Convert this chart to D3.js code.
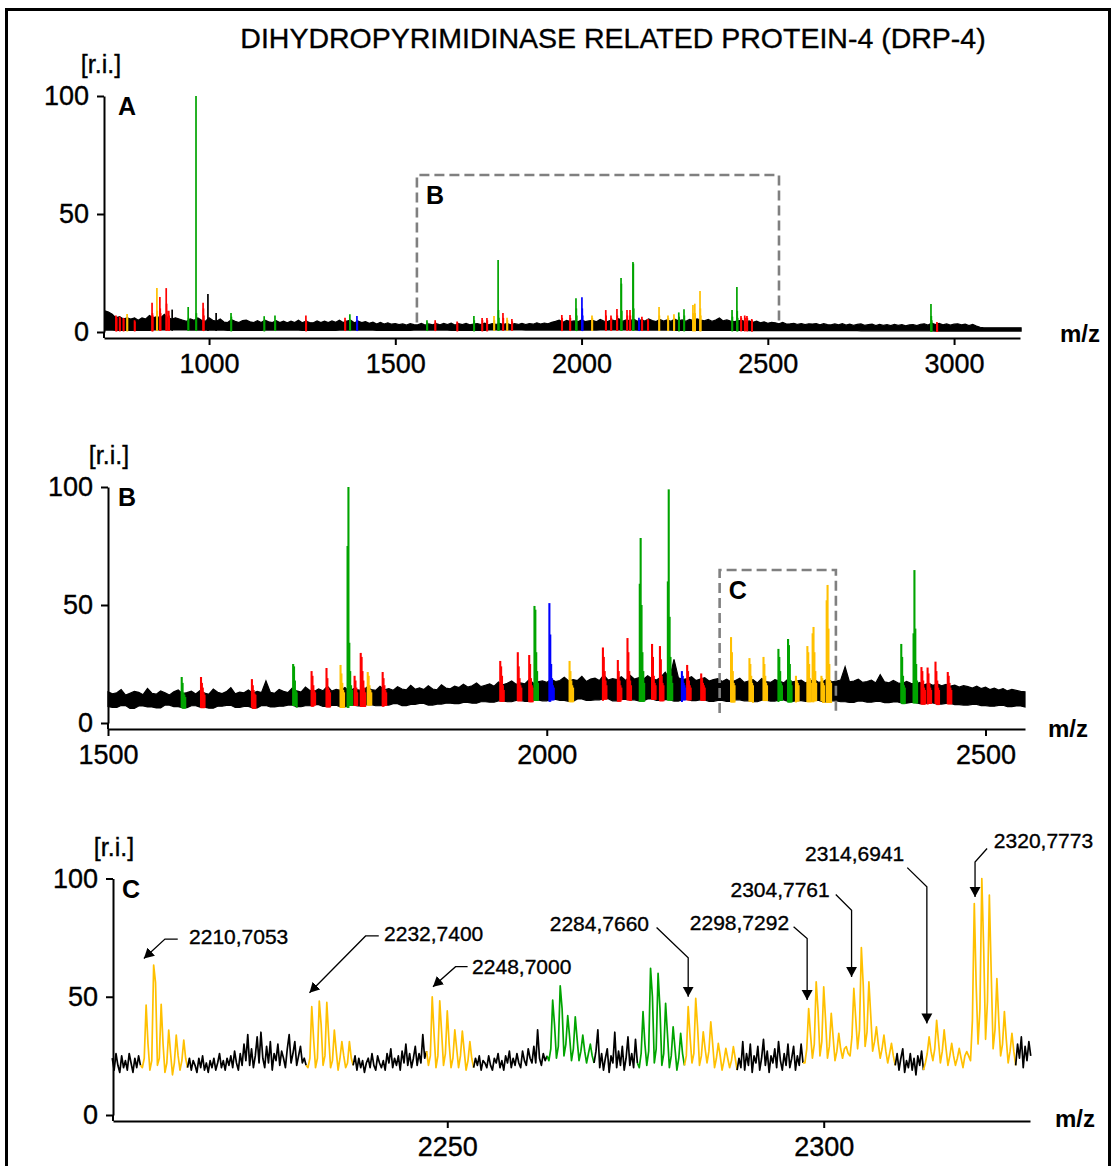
<!DOCTYPE html>
<html>
<head>
<meta charset="utf-8">
<script src="https://cdn.jsdelivr.net/npm/d3@7"></script>
<style>
  body { margin: 0; background: #fff; }
  svg { display: block; }
  text { font-family: "Liberation Sans", Arial, sans-serif; fill: #000; }
</style>
</head>
<body>
<div id="chart"></div>
<script>
// ---------- data ----------
const title = "DIHYDROPYRIMIDINASE RELATED PROTEIN-4 (DRP-4)";
const ticksA = [1000, 1500, 2000, 2500, 3000];
const ticksB = [1500, 2000, 2500];
const ticksC = [2250, 2300];
const ticksY = [0, 50, 100];

// panel A: upper edge of the noise band, every 10 m/z from 720
const bandStartA = 720, bandStepA = 10;
const bandHiA = [
  9, 8.5, 7.5, 6, 6.5, 5.5, 6, 5.5, 6, 5,
  6, 5.5, 7, 6, 6.5, 6, 7.5, 6, 5.5, 6,
  5.5, 5, 4.5, 5.5, 5, 6, 5, 4.5, 6, 5,
  4.5, 5.5, 4.2, 4, 5.2, 4.5, 4, 4.8, 5, 4.3,
  4, 4.8, 4, 5, 4.3, 4, 4.8, 4, 4.6, 3.9,
  4.6, 4, 5, 3.9, 4.6, 4, 3.9, 4.7, 4, 4.6,
  4, 4.7, 4.1, 5, 4, 4.6, 5, 3.9, 4.6, 4,
  4.4, 3.7, 4.2, 3.4, 4.1, 3.4, 3.9, 3.3, 3.6, 3.1,
  3.4, 2.9, 3.5, 3.1, 3, 3.6, 2.9, 3.4, 3, 3.5,
  3, 3.6, 3.1, 3.7, 2.9, 3.5, 3.1, 3.6, 3, 3.4,
  3.6, 3.1, 3.7, 3, 3.5, 3.2, 3.7, 3.1, 3.6, 3,
  3.5, 3.2, 3.7, 3.1, 3.6, 3.3, 3.9, 3.4, 3.8, 3.5,
  4.1, 4.5, 5, 4.1, 4.9, 4.4, 4.7, 4.3, 5.1, 4.4,
  4.7, 4.9, 4.3, 5.3, 4.6, 4.4, 5.1, 4.7, 5.6, 4.5,
  5.1, 4.7, 5.4, 4.5, 5.1, 4.6, 5.5, 4.8, 4.4, 5.3,
  4.6, 5.1, 4.5, 5.4, 4.7, 5.1, 4.5, 5.3, 4.8, 5.6,
  5.1, 4.7, 5.3, 4.5, 5.1, 5.9, 4.7, 5.1, 4.6, 4.4,
  4.7, 4.9, 4.3, 4.7, 4.1, 4.6, 3.9, 4.3, 3.7, 4.1,
  3.9, 3.5, 4.1, 3.4, 3.5, 3.7, 3.2, 3.6, 3.1, 3.5,
  3.4, 3.6, 3, 3.5, 3.1, 3, 3.4, 3, 3.5, 2.9,
  3.3, 2.8, 3.2, 3.4, 2.8, 3.1, 3.3, 2.7, 3.2, 2.8,
  3.1, 2.7, 3.2, 2.8, 3.1, 2.6, 3, 3.1, 2.7, 3.3,
  3.5, 2.9, 3.7, 3.1, 3.6, 3, 3.4, 2.9, 3.3, 3.5,
  3, 3.3, 2.7, 3.2, 2.5, 2, 1.8, 1.8, 1.8, 1.8,
  1.8, 1.8, 1.8, 1.8, 1.8, 1.8, 1.8
];
// panel A: lower edge of the band, every 100 m/z from 700
const loStartA = 700, loStepA = 100;
const bandLoA = [0.8, 0.7, 0.9, 0.8, 0.7, 0.8, 0.7, 0.8, 0.7, 0.8, 0.7, 0.9, 0.8,
  0.8, 0.9, 0.8, 0.7, 0.7, 0.6, 0.6, 0.6, 0.5, 0.5, 0.4, 0.4, 0.4];

// panel B: upper edge every 5 m/z from 1500, lower edge every 10 m/z
const bandStartB = 1500, bandStepB = 5;
const bandHiB = [
  13.2, 12.4, 12.8, 14.2, 11.8, 12.6, 13.4, 13, 12, 14.6, 12.6, 12.2, 13.6, 12.8, 11.9, 13.2, 14, 12.4, 12.9, 13.5,
  12.3, 13.8, 12.7, 12.2, 14.4, 13, 12.5, 13.3, 15, 12.4, 13.1, 12.8, 14, 12.6, 13.4, 12.9, 17.8, 13, 12.6, 14.2,
  13.4, 12.9, 14.8, 13.6, 13.1, 15.2, 13.8, 13.3, 14.4, 13.6, 15.6, 13.5, 14.2, 13.8, 15, 13.4, 14.6, 14, 13.6, 15.2,
  14.2, 13.8, 15.6, 14.1, 14.6, 13.9, 15.4, 14.4, 14, 16, 14.3, 14.9, 14.2, 15.8, 14.4, 14.1, 16.2, 14.8, 14.5, 15.6,
  15, 16.4, 15.2, 15.8, 17, 15.4, 16, 16.6, 15.6, 17.4, 16.2, 16.8, 17.8, 16.4, 17, 16.6, 18.4, 16.8, 17.4, 17.8,
  17.2, 18.6, 17.6, 18, 19.4, 17.8, 18.4, 18, 19.8, 17.6, 18.6, 19, 18, 20.4, 18.2, 18.8, 18.4, 19.6, 18, 20.2,
  18.6, 19.2, 18.4, 20, 18.8, 18.2, 19.4, 21.5, 18.8, 27, 19.2, 18.4, 18.8, 19.6, 18, 18.6, 19.2, 17.8, 18.4, 18.8,
  17.6, 18.6, 17.4, 18, 19, 17.2, 17.8, 18.4, 17, 18.8, 17.6, 17.2, 18.4, 17.8, 17, 18.6, 17.4, 17.8, 18.2, 17,
  17.8, 18.4, 17.2, 17.6, 18.8, 17.4, 17.8, 18.2, 23.8, 17.4, 17.8, 18.6, 17.2, 17.6, 18.2, 17, 20.5, 17.4, 17, 18,
  17, 16.6, 17.6, 16.8, 16.4, 17.2, 16.2, 16.8, 16, 16.6, 15.8, 16.4, 15.6, 16, 15.2, 15.8, 15.4, 14.8, 15.6, 14.6,
  15.2, 14.2, 14.8, 14, 14.6, 13.6, 14.2, 13.8, 13.4, 13.2
];
const loStartB = 1500, loStepB = 10;
const bandLoB = [
  7, 6.6, 7.4, 6.2, 7.2, 6.8, 6.4, 7.6, 6.9, 6.5,
  7.3, 6.7, 6.3, 7.1, 7.5, 6.6, 7, 6.4, 7.4, 6.8,
  7.1, 7.6, 6.9, 7.3, 7.8, 7, 7.5, 6.8, 7.6, 7.2,
  7.8, 7.3, 7.6, 8.2, 7.4, 7.9, 8.3, 7.6, 8, 8.4,
  8.2, 8.7, 8.4, 9, 8.8, 9.4, 9, 9.6, 9.2, 9.8,
  9.4, 10, 9.6, 9.2, 10.2, 9.6, 9.8, 10.3, 9.4, 10,
  9.8, 9.4, 10.2, 9.6, 9.9, 9.3, 10, 9.5, 9.8, 9.2,
  9.6, 9.1, 9.8, 9.4, 9, 9.7, 9.3, 9.8, 9.1, 9.5,
  9.2, 9.6, 8.9, 9.4, 9, 8.7, 9.3, 8.8, 9.1, 8.6,
  8.9, 8.4, 8.7, 8.2, 8.5, 8, 8.3, 7.8, 7.6, 7.9,
  7.4, 7.1, 7.5, 6.9, 7.2, 6.8
];

// assigned peaks: [first isotope m/z, category, isotope heights]
const peaksA = [
  [750, "r", [7, 6.5, 6]], [760, "r", [6.5, 6]], [770, "r", [6, 5.5]], [780, "y", [7.6, 6]], [800, "r", [5, 4.5]],
  [847, "r", [12.4, 8, 7]], [860, "y", [18.6, 9]], [868, "r", [14.8, 10, 8]], [885, "r", [18.6, 12, 9]], [892, "r", [9, 7]],
  [901, "k", [9.5]], [944, "g", [10.6, 6]], [965, "g", [100, 8]], [984, "r", [12.4, 10, 7]], [997, "k", [16.1]], [1019, "k", [8]],
  [1059, "g", [8, 6.5]], [1148, "g", [6.7, 5]], [1177, "g", [7, 5]], [1260, "r", [7, 5]], [1365, "r", [6, 5]],
  [1378, "g", [7.5, 5]], [1397, "b", [6.8, 5]],
  [1585, "g", [5, 4]], [1607, "r", [5, 4]], [1666, "r", [4.5, 4]], [1711, "g", [6.8, 5]], [1733, "r", [5.9, 5]],
  [1746, "r", [5.9, 5]], [1765, "y", [6.8, 5]], [1776, "g", [30.5, 9.3, 6]], [1789, "r", [8, 6]], [1800, "y", [6, 5]],
  [1813, "r", [5.5, 4.5]],
  [1947, "r", [7.2, 6]], [1969, "r", [7.2, 6]], [1985, "g", [14.3, 10, 7]], [2001, "b", [14.7, 10, 7]], [2028, "y", [7, 6]],
  [2065, "r", [9.3, 7]], [2079, "r", [7, 6]], [2095, "r", [9.7, 7]], [2106, "g", [22.9, 20.5, 9]], [2122, "r", [9.3, 7]],
  [2130, "r", [9.3, 7]], [2138, "g", [29.7, 29, 10]], [2154, "b", [6, 5]], [2162, "r", [6.5, 5.5]], [2178, "r", [5.5, 5]],
  [2208, "y", [10.6, 7]], [2232, "y", [7, 6]], [2248, "y", [7.5, 6]], [2261, "g", [8.3, 6.5]], [2275, "g", [9.6, 7]],
  [2299, "y", [11.4, 8]], [2304, "y", [12, 8]], [2318, "y", [17.4, 10, 7]],
  [2404, "g", [9.3, 6.5]], [2417, "g", [19.1, 9, 6]], [2428, "r", [6.8, 6]], [2438, "r", [7, 6]], [2444, "r", [6.8, 6]],
  [2457, "r", [5.5, 5]],
  [2938, "g", [11.9, 6.8, 5]], [2954, "r", [4.2, 3.5]]
];
const peaksB = [
  [1584, "g", [19.5, 17, 13, 12, 11]], [1606, "r", [19.5, 17, 15, 13, 12]], [1664, "r", [18.6, 16, 14, 12.5, 12]],
  [1711, "g", [25, 24, 18, 14, 13]], [1732, "r", [22, 20, 16, 14, 13]], [1749, "r", [23.3, 19, 15, 14, 13]],
  [1765, "y", [24.6, 21, 17, 14, 13]], [1773, "g", [75, 100, 34, 22, 16, 14]], [1781, "r", [20, 18, 15, 13]],
  [1788, "r", [29.7, 28, 22, 18, 15, 13]], [1796, "y", [21.6, 20, 16, 14, 13]], [1813, "r", [21.6, 19, 16, 14, 13]],
  [1947, "r", [26.3, 24, 20, 16, 14]], [1967, "r", [30, 24, 19, 16, 15]], [1980, "r", [28.8, 25, 19, 16, 15]],
  [1986, "g", [49.6, 48, 30, 22, 17]], [2003, "b", [50.8, 37.5, 25, 19, 16, 15]], [2026, "y", [26.3, 22, 18, 16, 15]],
  [2064, "r", [32, 28, 22, 18, 16]], [2081, "r", [26.7, 22, 18, 16, 15]], [2092, "r", [36, 30, 22, 18, 16]],
  [2106, "g", [59, 78.4, 50, 30, 22, 17]], [2120, "r", [33.5, 28, 20, 17, 16]], [2129, "r", [32.6, 27, 20, 17, 16]],
  [2138, "g", [60, 99, 45, 28, 20, 17]], [2154, "b", [22, 20, 17, 16, 15]], [2160, "r", [24.6, 22, 18, 16, 15]],
  [2176, "r", [21, 19, 17, 16, 15]],
  [2210, "y", [36.4, 30, 22, 17, 16]], [2231, "y", [27.5, 25, 20, 17, 16]], [2247, "y", [28, 25, 20, 17, 16]],
  [2264, "g", [31.4, 28, 22, 17, 16]], [2275, "g", [35.6, 33, 25, 18, 16]], [2284, "y", [20, 18, 17, 16]],
  [2297, "y", [32.6, 30, 25, 19, 17]], [2303, "y", [38, 40.7, 30, 22, 17]], [2313, "y", [20, 19, 17, 16]],
  [2319, "y", [52, 58.5, 40, 25, 18, 17]],
  [2404, "g", [33.5, 28, 20, 16, 15]], [2418, "g", [38, 64.8, 40, 25, 18]], [2427, "r", [23.7, 22, 18, 15, 14]],
  [2434, "r", [23.5, 21, 17, 15, 14]], [2443, "r", [26, 22, 18, 15, 14]], [2457, "r", [21.6, 20, 17, 15, 14]]
];

// panel C: the trace every 0.25 m/z from 2205.5 (two m/z per row)
const traceStartC = 2205.5, traceStepC = 0.25;
const traceC = [
  24, 19, 26, 21, 18, 25, 20, 23,            // 2205.5
  19, 26, 22, 18, 24, 20, 25, 21,            // 2207.5
  20, 24, 46.5, 30, 19, 23, 63.4, 56,        // 2209.5
  21, 24, 46.8, 30, 18, 22, 35.9, 26,        // 2211.5
  17, 22, 33.8, 25, 19, 23, 31.7, 24,        // 2213.5
  20, 24, 19, 23, 21, 18, 24, 20,            // 2215.5
  25, 19, 22, 18, 23, 20, 24, 19,            // 2217.5
  22, 26, 20, 23, 19, 24, 21, 25,            // 2219.5
  20, 27, 22, 19, 26, 21, 30, 23,            // 2221.5
  34, 21, 28, 20, 25, 33, 22, 35,            // 2223.5
  24, 20, 29, 22, 31, 19, 26, 23,            // 2225.5
  30, 21, 27, 24, 20, 28, 34, 22,            // 2227.5
  26, 31, 21, 25, 29, 22, 24, 21,            // 2229.5
  20, 24, 45.8, 32, 20, 24, 48.2, 38,        // 2231.5
  21, 25, 47.6, 33, 20, 23, 35.9, 27,        // 2233.5
  19, 24, 31, 25, 20, 22, 31, 24,            // 2235.5
  21, 25, 19, 24, 20, 23, 18, 22,            // 2237.5
  24, 20, 26, 21, 19, 25, 22, 20,            // 2239.5
  23, 19, 26, 22, 28, 20, 24, 21,            // 2241.5
  25, 19, 27, 22, 30, 21, 26, 20,            // 2243.5
  24, 29, 21, 26, 22, 34, 24, 27,            // 2245.5
  21, 25, 50, 34, 20, 25, 48.3, 35,          // 2247.5
  21, 26, 44, 30, 20, 24, 36, 28,            // 2249.5
  20, 25, 35.5, 27, 19, 23, 31, 24,          // 2251.5
  20, 24, 21, 25, 19, 23, 22, 20,            // 2253.5
  25, 21, 19, 24, 22, 26, 20, 23,            // 2255.5
  19, 25, 22, 27, 20, 24, 21, 26,            // 2257.5
  22, 20, 27, 23, 21, 28, 24, 22,            // 2259.5
  29, 22, 36, 24, 21, 26, 23, 25,            // 2261.5
  23, 28, 48.6, 38, 24, 29, 54.6, 45,        // 2263.5
  25, 30, 42, 33, 23, 28, 41.5, 32,          // 2265.5
  23, 27, 33.8, 27, 22, 26, 30, 25,          // 2267.5
  22, 27, 36, 20, 26, 19, 24, 28,            // 2269.5
  18, 25, 22, 35, 20, 27, 21, 29,            // 2271.5
  19, 24, 33, 21, 26, 20, 32, 22,            // 2273.5
  20, 26, 43.7, 30, 21, 27, 62, 50,          // 2275.5
  22, 28, 59.9, 45, 21, 26, 47.2, 34,        // 2277.5
  20, 25, 37.3, 28, 19, 24, 34.5, 26,        // 2279.5
  21, 25, 45.8, 33, 22, 26, 49.3, 37,        // 2281.5
  21, 25, 35.2, 28, 22, 27, 39.4, 30,        // 2283.5
  20, 24, 30.3, 25, 19, 23, 28.2, 24,        // 2285.5
  20, 23, 28.9, 24, 19, 24, 20, 31,          // 2287.5
  19, 26, 21, 30, 18, 25, 22, 29,            // 2289.5
  19, 24, 32, 21, 27, 18, 25, 22,            // 2291.5
  28, 20, 31, 23, 19, 26, 21, 30,            // 2293.5
  20, 24, 29, 19, 25, 21, 30, 22,            // 2295.5
  22, 28, 45, 34, 24, 30, 56.3, 44,          // 2297.5
  25, 31, 54.2, 40, 24, 29, 43, 33,          // 2299.5
  23, 27, 34.5, 28, 24, 28, 28.9, 26,        // 2301.5
  25, 33, 53.5, 41, 28, 36, 70.8, 55,        // 2303.5
  29, 35, 56.3, 42, 27, 31, 37.3, 30,        // 2305.5
  24, 28, 33.8, 27, 22, 26, 30.3, 25,        // 2307.5
  21, 26, 19, 24, 28, 18, 23, 20,            // 2309.5
  26, 19, 24, 17, 25, 21, 27, 19,            // 2311.5
  22, 26, 33, 27, 23, 28, 40, 31,            // 2313.5
  22, 27, 36, 28, 21, 25, 30.3, 25,          // 2315.5
  21, 24, 28.2, 24, 20, 25, 26.8, 25,        // 2317.5
  23, 40, 89.4, 55, 30, 45, 100, 70,         // 2319.5
  32, 48, 93, 60, 28, 36, 57.7, 40,          // 2321.5
  25, 30, 43.7, 32, 22, 27, 34.5, 27,        // 2323.5
  21, 30, 24, 33, 20, 29, 23, 31,            // 2325.5
  25                                          // 2327.5
];
// coloured (assigned) stretches of the C trace: [from m/z, to m/z, category]
const rangesC = [
  [2209.5, 2215.5, "y"], [2231.5, 2237.5, "y"], [2247.5, 2253.5, "y"],
  [2263.5, 2269.5, "g"], [2275.5, 2281.5, "g"], [2281.5, 2288.5, "y"],
  [2297.5, 2309.5, "y"], [2313.5, 2325.5, "y"]
];
// annotations in C: [text, anchor, label m/z, label r.i., leader points from label to arrow tip]
const labelsC = [
  ["2210,7053", "start", 2215.7, 75.4, [[2214.2, 74.4], [2212.5, 74.4], [2209.7, 66.2]]],
  ["2232,7400", "start", 2241.6, 76.8, [[2240.9, 75.7], [2239.15, 75.7], [2231.7, 51.7]]],
  ["2248,7000", "start", 2253.3, 62.7, [[2252.7, 62.7], [2251.1, 62.7], [2248.1, 54.2]]],
  ["2284,7660", "end", 2276.8, 81.1, [[2277.8, 79.3], [2282.0, 66.5], [2282.0, 50.0]]],
  ["2298,7292", "end", 2295.4, 81.3, [[2296.0, 79.6], [2297.8, 74.6], [2297.8, 48.6]]],
  ["2304,7761", "end", 2300.8, 95.1, [[2301.6, 93.2], [2303.7, 86.6], [2303.7, 58.4]]],
  ["2314,6941", "end", 2310.7, 110.3, [[2311.1, 104.6], [2313.7, 96.5], [2313.7, 38.7]]],
  ["2320,7773", "start", 2322.6, 116.0, [[2321.7, 112.7], [2320.1, 107.0], [2320.1, 92.2]]]
];
// zoom windows: [label, m/z from, m/z to, top r.i., bottom r.i.]
const boxA = ["B", 1558, 2530, 66.5, 4];
const boxB = ["C", 2197, 2329.5, 64.8, 4.2];

// ---------- layout ----------
const W = 1113, H = 1166;
const color = d3.scaleOrdinal()
  .domain(["k", "r", "g", "y", "b"])
  .range(["#000000", "#ff0000", "#00a400", "#ffc000", "#0000ff"]);

const svg = d3.select("#chart").append("svg")
  .attr("width", W).attr("height", H);

svg.append("rect")
  .attr("x", 6.5).attr("y", 9.5)
  .attr("width", 1103).attr("height", 1175)
  .attr("fill", "none").attr("stroke", "#000").attr("stroke-width", 3);

svg.append("text")
  .attr("x", 613).attr("y", 48)
  .attr("text-anchor", "middle")
  .attr("font-size", 28.5)
  .attr("stroke", "#000").attr("stroke-width", 0.35)
  .text(title);

function makePanel(domain, xr, y0, y100, opt) {
  return Object.assign({
    x: d3.scaleLinear().domain(domain).range(xr),
    y: d3.scaleLinear().domain([0, 100]).range([y0, y100])
  }, opt);
}
const pA = makePanel([718, 3177], [104, 1020], 332, 96, { riDx: -3, letterDx: 14, mzDx: 40, mzDy: 4 });
const pB = makePanel([1500, 2545], [108, 1025], 723, 487, { riDx: 1, letterDx: 10, mzDx: 23, mzDy: 8 });
const pC = makePanel([2205.6, 2327.4], [113, 1030], 1115, 878.5, { riDx: 1, letterDx: 9, mzDx: 25, mzDy: 6 });

function drawAxes(p, ticks, letter) {
  const g = svg.append("g");
  const x0 = p.x.range()[0];
  const axisY = p.y(0) + 6;

  const xa = g.append("g")
    .attr("transform", `translate(0,${axisY})`)
    .call(d3.axisBottom(p.x).tickValues(ticks).tickSize(7).tickSizeOuter(0)
      .tickPadding(9).tickFormat(d3.format("d")));
  const ya = g.append("g")
    .attr("transform", `translate(${x0},0)`)
    .call(d3.axisLeft(p.y).tickValues(ticksY).tickSize(7).tickSizeOuter(0).tickPadding(8));
  [xa, ya].forEach(a => {
    a.selectAll("path, line").attr("stroke", "#000").attr("stroke-width", 2);
    a.selectAll("text").attr("font-size", 27).attr("fill", "#000")
      .attr("stroke", "#000").attr("stroke-width", 0.35)
      .attr("font-family", '"Liberation Sans", Arial, sans-serif');
  });
  g.append("line")
    .attr("x1", x0).attr("x2", x0)
    .attr("y1", p.y(0)).attr("y2", axisY)
    .attr("stroke", "#000").attr("stroke-width", 2);

  g.append("text")
    .attr("x", x0 + p.riDx).attr("y", p.y(100) - 23)
    .attr("text-anchor", "middle")
    .attr("font-size", 25)
    .attr("stroke", "#000").attr("stroke-width", 0.35)
    .text("[r.i.]");
  g.append("text")
    .attr("x", x0 + p.letterDx).attr("y", p.y(100) + 19)
    .attr("font-size", 25).attr("font-weight", "bold")
    .text(letter);
  g.append("text")
    .attr("x", p.x.range()[1] + p.mzDx).attr("y", axisY + p.mzDy)
    .attr("font-size", 24).attr("font-weight", "bold")
    .text("m/z");
}

function drawBand(p, hi, start, step, lo, loStart, loStep) {
  const loAt = mz => lo[Math.max(0, Math.min(lo.length - 1, Math.round((mz - loStart) / loStep)))];
  const pts = hi.map((v, i) => ({ mz: start + i * step, hi: v }));
  const area = d3.area()
    .x(d => p.x(d.mz))
    .y0(d => p.y(loAt(d.mz)))
    .y1(d => p.y(d.hi));
  svg.append("path")
    .datum(pts)
    .attr("d", area)
    .attr("fill", "#000")
    .attr("stroke", "#000")
    .attr("stroke-width", 1.2)
    .attr("stroke-linejoin", "miter");
  return loAt;
}

function drawPeaks(p, peaks, loAt, width) {
  const lines = [];
  peaks.forEach(([mz, cat, hs]) => {
    hs.forEach((h, k) => lines.push({ mz: mz + k, h, cat }));
  });
  svg.append("g").selectAll("line")
    .data(lines)
    .join("line")
    .attr("x1", d => p.x(d.mz)).attr("x2", d => p.x(d.mz))
    .attr("y1", d => p.y(loAt(d.mz) - 0.4))
    .attr("y2", d => p.y(d.h))
    .attr("stroke", d => color(d.cat))
    .attr("stroke-width", width);
}

function drawBox(p, box) {
  const [letter, m0, m1, top, bottom] = box;
  const path = d3.path();
  path.moveTo(p.x(m0), p.y(bottom));
  path.lineTo(p.x(m0), p.y(top));
  path.lineTo(p.x(m1), p.y(top));
  path.lineTo(p.x(m1), p.y(bottom));
  svg.append("path")
    .attr("d", path.toString())
    .attr("fill", "none")
    .attr("stroke", "#808080")
    .attr("stroke-width", 2.6)
    .attr("stroke-dasharray", "10,5");
  svg.append("text")
    .attr("x", p.x(m0) + 9).attr("y", p.y(top) + 29)
    .attr("font-size", 25).attr("font-weight", "bold")
    .text(letter);
}

// ---------- panel A ----------
const loA = drawBand(pA, bandHiA, bandStartA, bandStepA, bandLoA, loStartA, loStepA);
drawPeaks(pA, peaksA, loA, 1.7);
drawBox(pA, boxA);
drawAxes(pA, ticksA, "A");

// ---------- panel B ----------
const loB = drawBand(pB, bandHiB, bandStartB, bandStepB, bandLoB, loStartB, loStepB);
drawPeaks(pB, peaksB, loB, 2.1);
drawBox(pB, boxB);
drawAxes(pB, ticksB, "B");

// ---------- panel C ----------
const ptsC = traceC.map((v, i) => {
  const mz = traceStartC + i * traceStepC;
  const r = rangesC.find(r => mz >= r[0] - 1e-6 && mz <= r[1] + 1e-6);
  return { mz, v, cat: r ? r[2] : "k" };
});
// split the trace into runs of one colour, each run starting at the last point of the previous one
const runsC = [];
ptsC.forEach((d, i) => {
  if (i === 0 || d.cat !== ptsC[i - 1].cat) runsC.push({ cat: d.cat, pts: i ? [ptsC[i - 1]] : [] });
  runsC[runsC.length - 1].pts.push(d);
});
const lineC = d3.line().x(d => pC.x(d.mz)).y(d => pC.y(d.v));
svg.append("g").selectAll("path")
  .data(runsC)
  .join("path")
  .attr("d", d => lineC(d.pts))
  .attr("fill", "none")
  .attr("stroke", d => color(d.cat))
  .attr("stroke-width", 1.7)
  .attr("stroke-linejoin", "round");

svg.append("defs").append("marker")
  .attr("id", "arrow")
  .attr("viewBox", "0 -6 10 12")
  .attr("refX", 10).attr("refY", 0)
  .attr("markerWidth", 10).attr("markerHeight", 12)
  .attr("markerUnits", "userSpaceOnUse")
  .attr("orient", "auto")
  .append("path")
  .attr("d", "M0,-5.5L10,0L0,5.5Z")
  .attr("fill", "#000");

const leadC = d3.line().x(d => pC.x(d[0])).y(d => pC.y(d[1]));
labelsC.forEach(([txt, anchor, lm, li, path]) => {
  svg.append("path")
    .attr("d", leadC(path))
    .attr("fill", "none")
    .attr("stroke", "#000")
    .attr("stroke-width", 1.3)
    .attr("marker-end", "url(#arrow)");
  svg.append("text")
    .attr("x", pC.x(lm)).attr("y", pC.y(li))
    .attr("dy", "0.35em")
    .attr("text-anchor", anchor)
    .attr("font-size", 21)
    .attr("stroke", "#000").attr("stroke-width", 0.35)
    .text(txt);
});
drawAxes(pC, ticksC, "C");
</script>
</body>
</html>
